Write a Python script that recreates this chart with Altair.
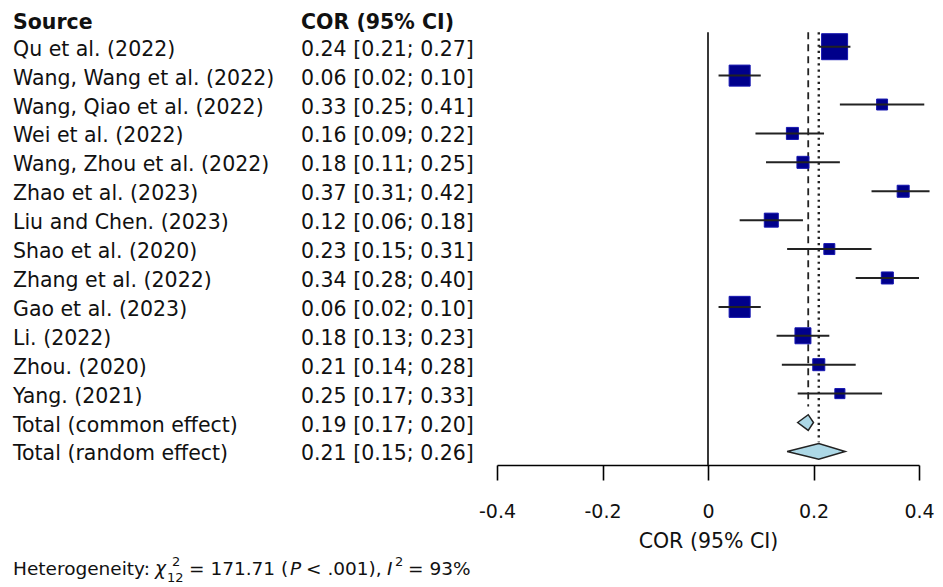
import altair as alt
import pandas as pd

# ---------------- data ----------------
sources = [
    "Qu et al. (2022)", "Wang, Wang et al. (2022)", "Wang, Qiao et al. (2022)",
    "Wei et al. (2022)", "Wang, Zhou et al. (2022)", "Zhao et al. (2023)",
    "Liu and Chen. (2023)", "Shao et al. (2020)", "Zhang et al. (2022)",
    "Gao et al. (2023)", "Li. (2022)", "Zhou. (2020)", "Yang. (2021)",
]
cor = [0.24, 0.06, 0.33, 0.16, 0.18, 0.37, 0.12, 0.23, 0.34, 0.06, 0.18, 0.21, 0.25]
lower = [0.21, 0.02, 0.25, 0.09, 0.11, 0.31, 0.06, 0.15, 0.28, 0.02, 0.13, 0.14, 0.17]
upper = [0.27, 0.10, 0.41, 0.22, 0.25, 0.42, 0.18, 0.31, 0.40, 0.10, 0.23, 0.28, 0.33]
weights = [22.0, 14.4, 3.9, 4.7, 4.7, 4.7, 6.4, 3.9, 4.7, 14.4, 8.3, 4.7, 3.3]

pooled_labels = ["Total (common effect)", "Total (random effect)"]
pooled_est = [0.19, 0.21]
pooled_lower = [0.17, 0.15]
pooled_upper = [0.20, 0.26]

x_ticks = [-0.4, -0.2, 0, 0.2, 0.4]
x_tick_labels = ["-0.4", "-0.2", "0", "0.2", "0.4"]

chi2 = 171.71
chi2_df = 12
p_text = ".001"
i2 = 93

header_source = "Source"
header_cor = "COR (95% CI)"
x_title = "COR (95% CI)"

# ---------------- styling ----------------
FONT = "DejaVu Sans"
FS = 20.5
HFS = 18.5
SFS = 13
TXT = "#111111"
W, H = 422, 457
Y_TOP, Y_BOT = -1.339, 14.47
ORIGIN = 497  # page x of plot left edge

n = len(sources)
fmt = lambda c, l, u: f"{c:.2f} [{l:.2f}; {u:.2f}]"

study = pd.DataFrame({
    "source": sources, "cor": cor, "lower": lower, "upper": upper,
    "weight": weights, "row": list(range(n)),
    "label": [fmt(c, l, u) for c, l, u in zip(cor, lower, upper)],
})
pooled = pd.DataFrame({
    "source": pooled_labels, "est": pooled_est, "lower": pooled_lower,
    "upper": pooled_upper, "row": [n, n + 1],
    "label": [fmt(c, l, u) for c, l, u in zip(pooled_est, pooled_lower, pooled_upper)],
})
labels_all = pd.concat([study[["source", "label", "row"]], pooled[["source", "label", "row"]]])

HALF = 0.27
dia_rows = []
for i, r in pooled.iterrows():
    dia_rows += [
        {"g": i, "x": r["lower"], "y": r["row"], "y2": r["row"]},
        {"g": i, "x": r["est"], "y": r["row"] - HALF, "y2": r["row"] + HALF},
        {"g": i, "x": r["upper"], "y": r["row"], "y2": r["row"]},
    ]
diamond = pd.DataFrame(dia_rows)

xscale = alt.Scale(domain=[-0.4, 0.4], nice=False, zero=False)
yscale = alt.Scale(domain=[Y_TOP, Y_BOT], reverse=True, nice=False, zero=False)

label_expr = "[" + ",".join(f"'{t}'" for t in x_tick_labels) + "][indexof([" + \
    ",".join(str(v) for v in x_ticks) + "], datum.value)]"

xaxis = alt.Axis(
    values=x_ticks, labelExpr=label_expr, title=x_title, grid=False,
    tickSize=15, tickWidth=1.6, tickColor="black", domainColor="black", domainWidth=1.6,
    labelColor=TXT, labelFont=FONT, labelFontSize=19, labelPadding=22, labelFlush=False,
    labelOverlap=False, titleFont=FONT, titleFontSize=FS, titleFontWeight="normal",
    titleColor=TXT, titlePadding=10,
)

base_y = lambda f: alt.Y(f, scale=yscale, axis=None)

# zero line
zero_df = pd.DataFrame({"x": [0], "y": [-0.5], "y2": [Y_BOT]})
zero_line = alt.Chart(zero_df).mark_rule(color="#222", strokeWidth=1.8).encode(
    x=alt.X("x:Q", scale=xscale, axis=xaxis), y=base_y("y:Q"), y2="y2:Q")

ref_df_c = pd.DataFrame({"x": [pooled_est[0]], "y": [-0.5], "y2": [n - 0.55]})
ref_df_r = pd.DataFrame({"x": [pooled_est[1]], "y": [-0.5], "y2": [n + 1 - 0.32]})
ref_common = alt.Chart(ref_df_c).mark_rule(color="#222", strokeWidth=1.8, strokeDash=[7, 5]).encode(
    x=alt.X("x:Q", scale=xscale), y=base_y("y:Q"), y2="y2:Q")
ref_random = alt.Chart(ref_df_r).mark_rule(color="#222", strokeWidth=2.4, strokeDash=[2.2, 4]).encode(
    x=alt.X("x:Q", scale=xscale), y=base_y("y:Q"), y2="y2:Q")

squares = alt.Chart(study).mark_square(color="#00008B", stroke="#1515B0", strokeWidth=1, opacity=1).encode(
    x=alt.X("cor:Q", scale=xscale), y=base_y("row:Q"),
    size=alt.Size("weight:Q", scale=alt.Scale(domain=[0, 22.0], range=[0, 676], zero=True), legend=None),
)
ci = alt.Chart(study).mark_rule(color="#222", strokeWidth=2).encode(
    x=alt.X("lower:Q", scale=xscale), x2="upper:Q", y=base_y("row:Q"))

dia = alt.Chart(diamond).mark_area(orient="vertical", fill="#ADD8E6", stroke="#222",
                                   strokeWidth=1.5, opacity=1).encode(
    x=alt.X("x:Q", scale=xscale), y=alt.Y("y:Q", scale=yscale, axis=None, stack=None),
    y2="y2:Q", detail="g:N")

src_text = alt.Chart(labels_all).mark_text(align="left", baseline="middle", dy=3, font=FONT,
                                           fontSize=FS, color=TXT).encode(
    x=alt.value(13 - ORIGIN), y=base_y("row:Q"), text="source:N")
cor_text = alt.Chart(labels_all).mark_text(align="left", baseline="middle", dy=3, font=FONT,
                                           fontSize=FS, color=TXT).encode(
    x=alt.value(301 - ORIGIN), y=base_y("row:Q"), text="label:N")

hdr_df = pd.DataFrame({"t": [header_source, header_cor], "x": [13 - ORIGIN, 301 - ORIGIN], "row": [-0.91, -0.91]})
hdr = alt.Chart(hdr_df).mark_text(align="left", baseline="middle", dy=3, font=FONT, fontSize=FS,
                                  fontWeight="bold", color=TXT).encode(
    x=alt.X("x:Q", scale=None), y=base_y("row:Q"), text="t:N")

# heterogeneity line (pixel layout of the annotation pieces)
BASE = 575 - 8
het_norm = pd.DataFrame({
    "t": ["Heterogeneity:", f"= {chi2:.2f} (", f"< {p_text}),", f"= {i2}%"],
    "x": [13 - ORIGIN, 189 - ORIGIN, 306 - ORIGIN, 408 - ORIGIN], "y": [BASE] * 4})
het_ital = pd.DataFrame({"t": ["\u03c7", "P", "I"],
                         "x": [155 - ORIGIN, 290 - ORIGIN, 387 - ORIGIN], "y": [BASE] * 3})
het_small = pd.DataFrame({"t": ["2", str(chi2_df), "2"],
                          "x": [172 - ORIGIN, 167 - ORIGIN, 395 - ORIGIN],
                          "y": [BASE - 9, BASE + 7, BASE - 9]})
hn = alt.Chart(het_norm).mark_text(align="left", baseline="alphabetic", font=FONT, fontSize=HFS, color=TXT).encode(
    x=alt.X("x:Q", scale=None), y=alt.Y("y:Q", scale=None), text="t:N")
hi = alt.Chart(het_ital).mark_text(align="left", baseline="alphabetic", font=FONT, fontSize=HFS,
                                   fontStyle="italic", color=TXT).encode(
    x=alt.X("x:Q", scale=None), y=alt.Y("y:Q", scale=None), text="t:N")
hs = alt.Chart(het_small).mark_text(align="left", baseline="alphabetic", font=FONT, fontSize=SFS, color=TXT).encode(
    x=alt.X("x:Q", scale=None), y=alt.Y("y:Q", scale=None), text="t:N")

chart = alt.layer(
    zero_line, ref_common, ref_random, squares, ci, dia, src_text, cor_text, hdr, hn, hi, hs
).properties(
    width=W, height=H, padding={"left": 5, "top": 0, "right": 0, "bottom": 0}
).configure_view(stroke=None).resolve_scale(x="shared", y="shared")

chart.save("out.html", embed_options={"renderer": "svg", "actions": False})
